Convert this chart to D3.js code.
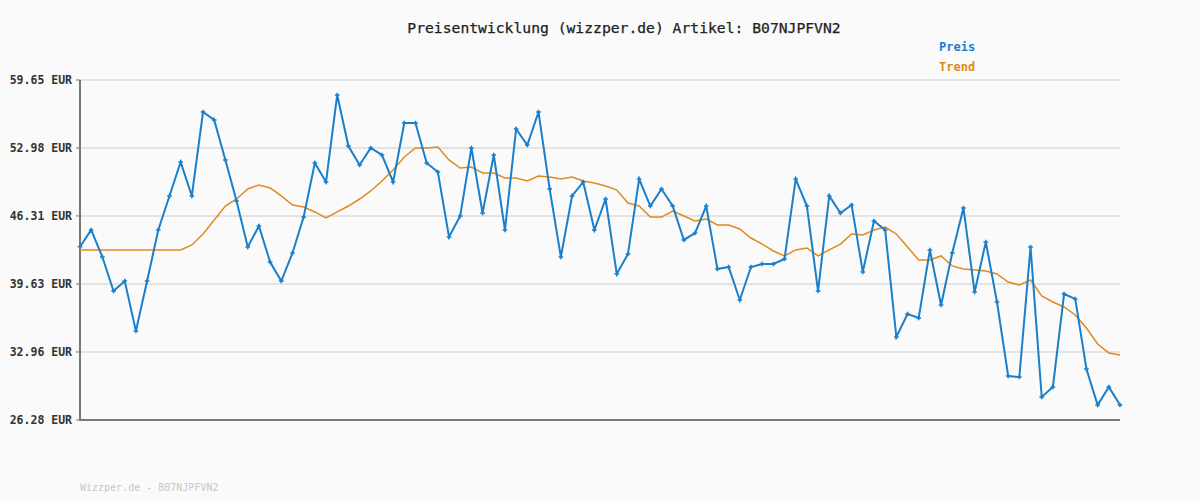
<!DOCTYPE html><html><head><meta charset="utf-8">
<script src="https://cdn.jsdelivr.net/npm/d3@7"></script>
<style>body{margin:0;background:#fafafa}svg{display:block}text{font-family:"DejaVu Sans Mono",monospace}</style></head><body>
<svg id="c" width="1200" height="500"></svg>
<script>
const title = "Preisentwicklung (wizzper.de) Artikel: B07NJPFVN2";
const yTicks = [26.28, 32.96, 39.63, 46.31, 52.98, 59.65];
const preis = [43.29,44.93,42.28,38.94,39.92,35.02,39.92,44.93,48.27,51.60,48.27,56.51,55.73,51.80,47.77,43.26,45.32,41.79,39.92,42.67,46.20,51.50,49.64,58.18,53.17,51.31,52.98,52.29,49.64,55.43,55.43,51.50,
50.62,44.24,46.30,52.98,46.60,52.29,44.93,54.84,53.27,56.51,48.95,42.28,48.27,49.64,44.93,47.97,40.61,42.57,49.93,47.28,48.95,47.28,43.95,44.63,47.28,41.10,41.30,38.06,41.30,41.59,41.59,
42.08,49.93,47.28,38.94,48.27,46.60,47.38,40.81,45.81,44.93,34.43,36.68,36.29,42.97,37.57,42.67,47.09,38.84,43.75,37.86,30.60,30.50,43.26,28.54,29.52,38.65,38.16,31.29,27.75,29.52,27.75];
const trend = [42.97,42.97,42.97,42.97,42.97,42.97,42.97,42.97,42.97,42.97,
43.46,44.54,45.91,47.28,47.97,48.95,49.35,49.05,48.27,47.38,47.19,46.70,46.11,46.70,47.28,47.97,48.76,49.74,50.82,52.09,52.98,52.98,
53.07,51.80,51.01,51.11,50.52,50.52,50.03,50.03,49.74,50.23,50.13,49.93,50.13,49.74,49.54,49.25,48.85,47.58,47.28,46.20,46.20,46.79,46.30,45.81,46.01,45.42,45.42,45.03,44.14,43.55,42.87,
42.38,42.97,43.16,42.38,42.97,43.55,44.54,44.44,44.93,45.22,44.54,43.26,41.98,41.98,42.38,41.40,41.10,41.00,40.90,40.61,39.82,39.53,40.02,38.45,37.86,37.37,36.59,35.31,33.74,32.86,32.66];
const footer = "Wizzper.de - B07NJPFVN2";
const blue = "#1a7fcb", orange = "#e08a1e";

const svg = d3.select("#c");
const x = d3.scaleLinear().domain([0, preis.length-1]).range([80,1120]);
const y = d3.scaleLinear().domain([26.28,59.65]).range([420,80]);

svg.append("g").selectAll("line").data(yTicks.slice(1)).join("line")
 .attr("x1",80).attr("x2",1120).attr("y1",d=>y(d)).attr("y2",d=>y(d))
 .attr("stroke","#e3e3e3").attr("stroke-width",2);
svg.append("g").selectAll("line").data(yTicks).join("line")
 .attr("x1",76).attr("x2",80).attr("y1",d=>y(d)).attr("y2",d=>y(d)).attr("stroke","#777").attr("stroke-width",1);
svg.append("g").selectAll("text").data(yTicks).join("text")
 .attr("x",72).attr("y",d=>y(d)+4).attr("text-anchor","end").attr("font-size",11.5).attr("font-weight","bold").attr("fill","#333")
 .text(d=>d.toFixed(2)+" EUR");
svg.append("line").attr("x1",80).attr("x2",80).attr("y1",80).attr("y2",420).attr("stroke","#777").attr("stroke-width",2);
svg.append("line").attr("x1",79).attr("x2",1120).attr("y1",420).attr("y2",420).attr("stroke","#777").attr("stroke-width",2);

const line = d3.line().x((d,i)=>x(i)).y(d=>y(d));
svg.append("path").datum(trend).attr("d",line).attr("fill","none").attr("stroke",orange).attr("stroke-width",1.5);
svg.append("path").datum(preis).attr("d",line).attr("fill","none").attr("stroke",blue).attr("stroke-width",2);
svg.append("g").selectAll("path").data(preis).join("path")
 .attr("d",d3.symbol(d3.symbolCross,12)).attr("transform",(d,i)=>`translate(${x(i)},${y(d)})`).attr("fill",blue);

svg.append("text").attr("x",624).attr("y",33).attr("text-anchor","middle").attr("font-size",14.7).attr("fill","#222").attr("stroke","#222").attr("stroke-width",0.25).text(title);
svg.append("text").attr("x",939).attr("y",51).attr("font-size",12).attr("font-weight","bold").attr("fill",blue).text("Preis");
svg.append("text").attr("x",939).attr("y",71).attr("font-size",12).attr("font-weight","bold").attr("fill",orange).text("Trend");
svg.append("text").attr("x",80).attr("y",491).attr("font-size",10).attr("fill","#c8c8c8").text(footer);
</script></body></html>
